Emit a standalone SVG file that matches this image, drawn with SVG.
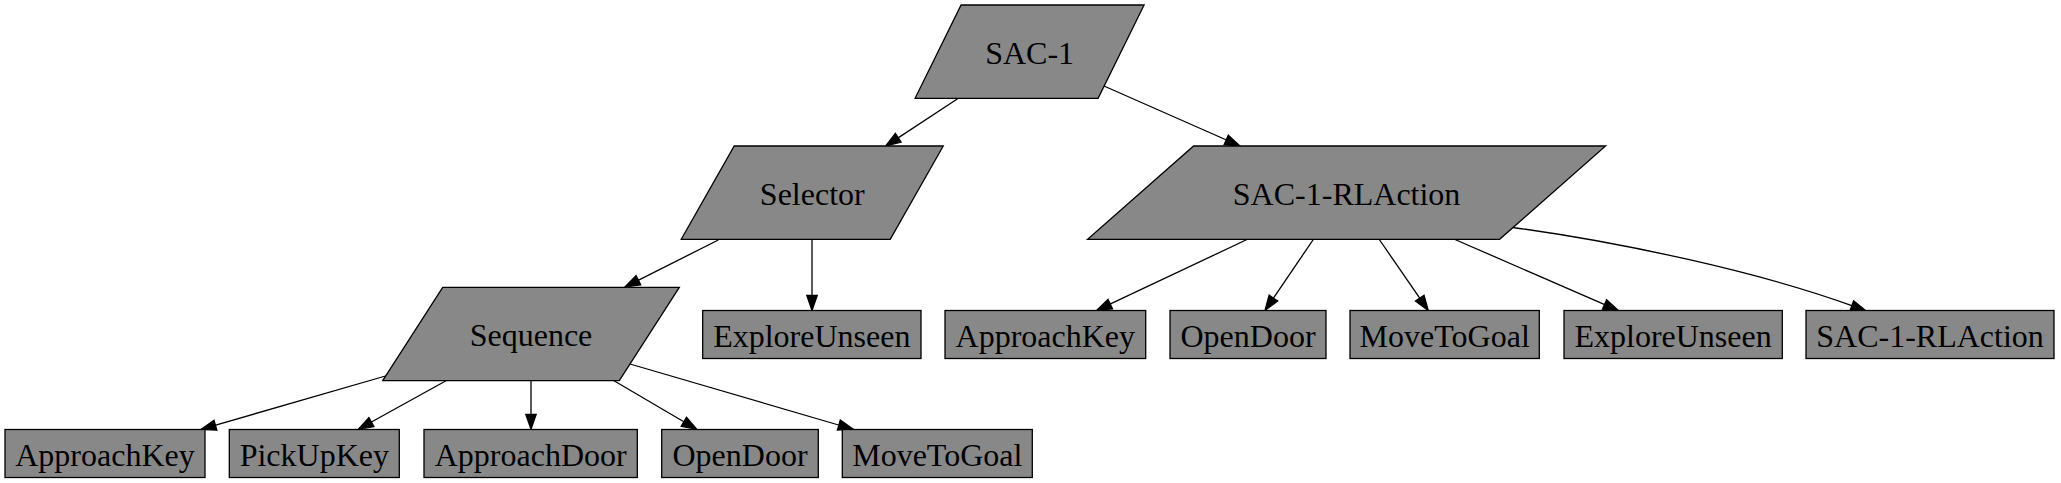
<svg xmlns="http://www.w3.org/2000/svg" width="2061" height="483" viewBox="0 0 2061 483">
<defs>
<marker id="arr" markerUnits="userSpaceOnUse" markerWidth="18" markerHeight="12" refX="0" refY="0" viewBox="-2 -6 18 12" orient="auto" overflow="visible">
<path d="M-1.5,-5.2 L13.5,0 L-1.5,5.2 Z" fill="#000" stroke="#000" stroke-width="1.3"/>
</marker>
<style>
.n{fill:#888888;stroke:#000;stroke-width:1.3}
.t{font-size:32px;fill:#000;text-anchor:middle}
.e{fill:none;stroke:#000;stroke-width:1.3;marker-end:url(#arr)}
</style>
</defs>
<rect width="2061" height="483" fill="#fff"/>
<g id="edges">
<path class="e" d="M958,98.5 L897,138.6"/>
<path class="e" d="M1104,86 L1227.6,140.5"/>
<path class="e" d="M718.3,240 L637.1,280.9"/>
<path class="e" d="M812,239.5 L812,297"/>
<path class="e" d="M1247,239.5 L1108.9,304.7"/>
<path class="e" d="M1313.3,239.5 L1272.6,299.3"/>
<path class="e" d="M1379.3,239.5 L1420.6,299.4"/>
<path class="e" d="M1455,239.5 L1605.9,305.1"/>
<path class="e" d="M1513,227.5 C1620,242 1760,272 1853.2,306.2"/>
<path class="e" d="M385.5,376 L214,425.6"/>
<path class="e" d="M446,380.7 L370.1,422.8"/>
<path class="e" d="M531,380.7 L531,415.8"/>
<path class="e" d="M614,380.7 L685.1,422.5"/>
<path class="e" d="M630,364 L840.3,425.5"/>
</g>
<g font-family="Liberation Serif, serif">
<g id="sac1">
<polygon class="n" points="961.1,5 1144.1,5 1098.1,98.3 915.1,98.3"/>
<text class="t" x="1029.6" y="63.5">SAC-1</text>
</g>
<g id="selector">
<polygon class="n" points="734.25,146 943.25,146 890.25,239.3 681.25,239.3"/>
<text class="t" x="812.25" y="204.5">Selector</text>
</g>
<g id="rlaction">
<polygon class="n" points="1193.6,146 1605.6,146 1499.6,239.3 1087.6,239.3"/>
<text class="t" x="1346.6" y="204.5">SAC-1-RLAction</text>
</g>
<g id="sequence">
<polygon class="n" points="442.7,287.3 679.3,287.3 619.3,380.7 382.7,380.7"/>
<text class="t" x="531" y="346">Sequence</text>
</g>
<g id="explore1">
<rect class="n" x="702.7" y="310.5" width="218.3" height="48"/>
<text class="t" x="811.8" y="346.5">ExploreUnseen</text>
</g>
<g id="approachkey2">
<rect class="n" x="945" y="310.5" width="200.7" height="48"/>
<text class="t" x="1045.3" y="346.5">ApproachKey</text>
</g>
<g id="opendoor2">
<rect class="n" x="1170" y="310.5" width="156" height="48"/>
<text class="t" x="1248" y="346.5">OpenDoor</text>
</g>
<g id="movetogoal2">
<rect class="n" x="1350" y="310.5" width="189.3" height="48"/>
<text class="t" x="1444.7" y="346.5">MoveToGoal</text>
</g>
<g id="explore2">
<rect class="n" x="1564" y="310.5" width="218.3" height="48"/>
<text class="t" x="1673.1" y="346.5">ExploreUnseen</text>
</g>
<g id="rlaction2">
<rect class="n" x="1806" y="310.5" width="248" height="48"/>
<text class="t" x="1930" y="346.5">SAC-1-RLAction</text>
</g>
<g id="approachkey1">
<rect class="n" x="5" y="429.5" width="200" height="48"/>
<text class="t" x="105" y="465.5">ApproachKey</text>
</g>
<g id="pickupkey">
<rect class="n" x="229.3" y="429.5" width="170" height="48"/>
<text class="t" x="314.3" y="465.5">PickUpKey</text>
</g>
<g id="approachdoor">
<rect class="n" x="424" y="429.5" width="213.3" height="48"/>
<text class="t" x="530.7" y="465.5">ApproachDoor</text>
</g>
<g id="opendoor1">
<rect class="n" x="661.7" y="429.5" width="156.6" height="48"/>
<text class="t" x="740" y="465.5">OpenDoor</text>
</g>
<g id="movetogoal1">
<rect class="n" x="842.3" y="429.5" width="190" height="48"/>
<text class="t" x="937.3" y="465.5">MoveToGoal</text>
</g>
</g>
</svg>
